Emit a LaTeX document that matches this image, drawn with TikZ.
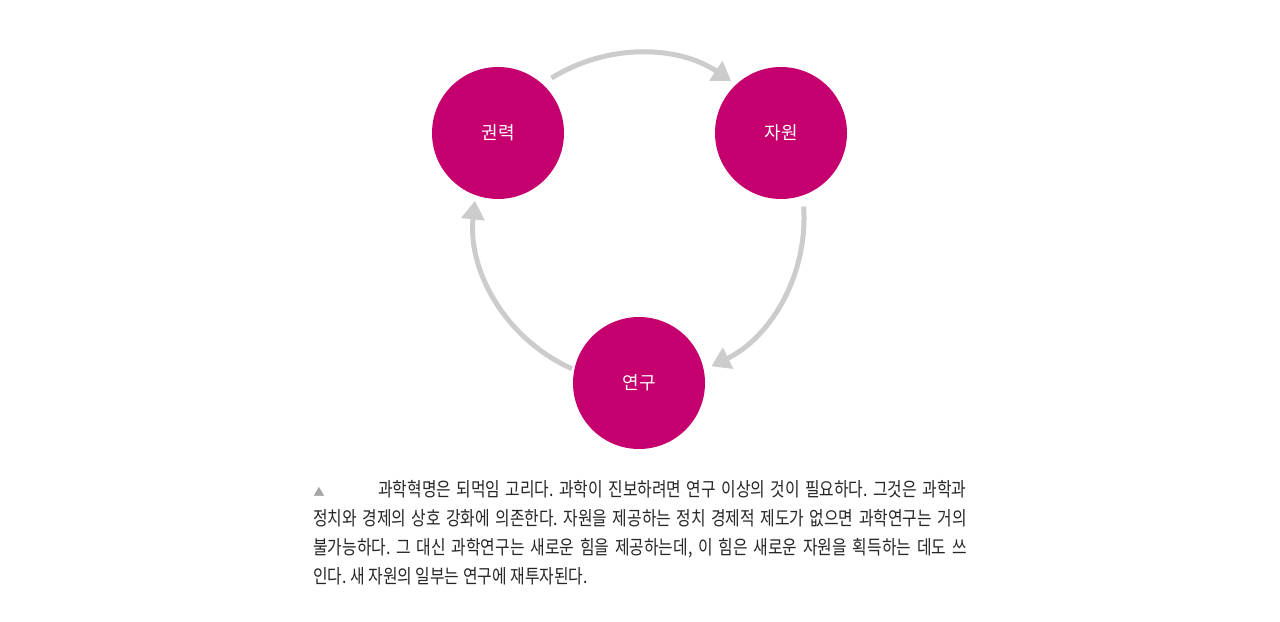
\documentclass[tikz,border=0pt]{standalone}
\usepackage{fontspec}
\newfontfamily\kofont{Noto Sans CJK KR}
\newfontfamily\kocond[FakeStretch=0.82]{Noto Sans CJK KR}
\usetikzlibrary{arrows.meta}
\frenchspacing

\definecolor{berry}{HTML}{C5006E}
\definecolor{loopgray}{HTML}{CCCCCC}

\begin{document}
\begin{tikzpicture}[x=0.75pt, y=0.75pt,
    >={Triangle[width=17pt, length=14pt]},
    stage/.style={circle, fill=berry, minimum size=99pt, inner sep=0pt,
        text=white, font=\kofont\fontsize{13.5}{15}\selectfont},
    feed/.style={->, loopgray, line width=3.75pt},
    capline/.style={anchor=base west, inner sep=0pt, text=black!85,
        font=\kocond\fontsize{14.5}{16}\selectfont}]
    \useasboundingbox (0,0) rectangle (1280,621);

    \coordinate (hub) at (639,403);
    \node[stage] (power)    at (498,488) {권력};
    \node[stage] (resource) at (781,488) {자원};
    \node[stage] (research) at (639,238) {연구};

    % feedback loop on the circle through the three centres
    \draw[feed] ([shift={(122:165)}]hub) arc[start angle=122, end angle=56, radius=165];
    \draw[feed] ([shift={(4:165)}]hub) arc[start angle=4, end angle=-64, radius=165];
    \draw[feed] ([shift={(-114:165)}]hub) arc[start angle=-114, end angle=-186, radius=165];

    % caption
    \node[anchor=base, inner sep=0pt, text=black!35,
        font=\kofont\fontsize{8.5}{8}\selectfont] (mark) at (319,125) {▲};
    \node[capline] (cap1) at (378,125)
        {\makebox[441pt][s]{과학혁명은 되먹임 고리다. 과학이 진보하려면 연구 이상의 것이 필요하다. 그것은 과학과}};
    \node[capline] (cap2) at (313,96)
        {\makebox[490pt][s]{정치와 경제의 상호 강화에 의존한다. 자원을 제공하는 정치 경제적 제도가 없으면 과학연구는 거의}};
    \node[capline] (cap3) at (313,67)
        {\makebox[490pt][s]{불가능하다. 그 대신 과학연구는 새로운 힘을 제공하는데, 이 힘은 새로운 자원을 획득하는 데도 쓰}};
    \node[capline] (cap4) at (313,38) {인다. 새 자원의 일부는 연구에 재투자된다.};
\end{tikzpicture}
\end{document}
